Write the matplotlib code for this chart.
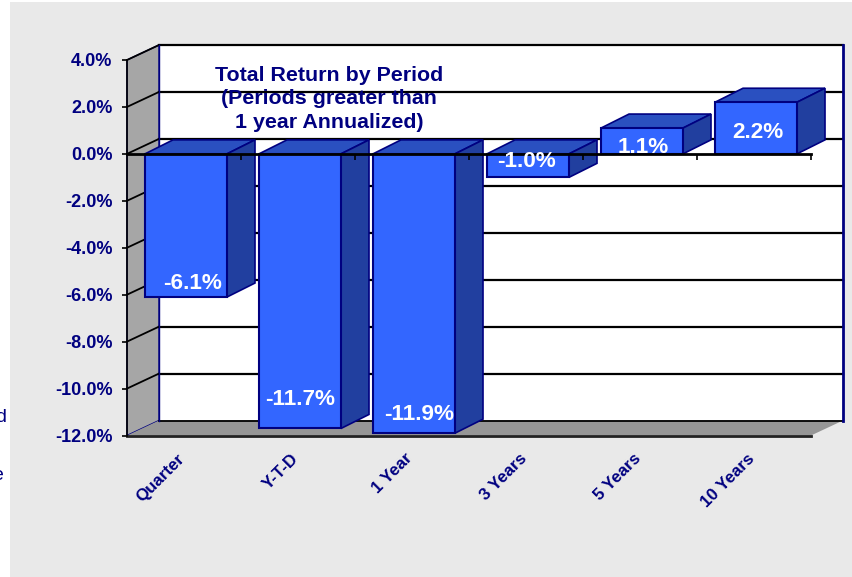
import matplotlib
matplotlib.use("Agg")
import matplotlib.pyplot as plt
from matplotlib.patches import Polygon, Rectangle

plt.rcParams["font.family"] = ["Liberation Sans", "DejaVu Sans"]

categories = ["Quarter", "Y-T-D", "1 Year", "3 Years", "5 Years", "10 Years"]
returns = [-6.1, -11.7, -11.9, -1.0, 1.1, 2.2]
y_ticks = [4, 2, 0, -2, -4, -6, -8, -10, -12]
label_shift = [14, 29, 19, 16, -19, -30]  # px from bar end to label centre
label_nudge = [7, 0, 5, -1, 1, 2]  # px sideways from bar centre

W, H = 853, 577
NAVY = "#000080"
FRONT = "#3366ff"
TOP = "#2a50c0"
SIDE = "#213f9f"

fig = plt.figure(figsize=(W / 100, H / 100), dpi=100, facecolor="white")
fig.patches.append(
    Rectangle((10 / W, 0), (W - 10) / W, 575 / H, transform=fig.transFigure,
              facecolor="#e9e9e9", edgecolor="none", zorder=-5)
)

# front plane of the 3D box, in pixels
left, right, top, bottom = 127, 811, 60, 435.5
ax = fig.add_axes([left / W, 1 - bottom / H, (right - left) / W, (bottom - top) / H])
ax.set_xlim(0, 6)
ax.set_ylim(-12, 4)
ax.patch.set_visible(False)

px_x = 6 / (right - left)
px_y = 16 / (bottom - top)
dx, dy = 32 * px_x, 15 * px_y  # box depth
bdx, bdy = 28 * px_x, 14 * px_y  # bar depth

# side wall and floor
ax.add_patch(Polygon([(0, -12), (dx, -12 + dy), (dx, 4 + dy), (0, 4)], closed=True,
                     facecolor="#a6a6a6", edgecolor=NAVY, lw=1, zorder=0.5, clip_on=False))
ax.add_patch(Polygon([(0, -12), (6, -12), (6 + dx, -12 + dy), (dx, -12 + dy)], closed=True,
                     facecolor="#969696", edgecolor="none", zorder=0.5, clip_on=False))
ax.add_patch(Rectangle((dx, -12 + dy), 6, 16, facecolor="white", edgecolor="none",
                       zorder=0.4, clip_on=False))

# gridlines on walls
for t in y_ticks:
    if t == -12:
        ax.plot([dx, 6 + dx], [t + dy, t + dy], color="black", lw=1.3, zorder=0.7, clip_on=False)
        continue
    ax.plot([dx, 6 + dx], [t + dy, t + dy], color="black", lw=1.6, zorder=0.7, clip_on=False)
    ax.plot([0, dx], [t, t + dy], color="black", lw=1.3, zorder=0.7, clip_on=False)
ax.plot([dx, dx], [-12 + dy, 4 + dy], color=NAVY, lw=1, zorder=0.8, clip_on=False)
ax.plot([6 + dx, 6 + dx], [-12 + dy, 4 + dy], color=NAVY, lw=2, zorder=0.8, clip_on=False)

# bars
xs = [i + 0.5 + 2 * px_x for i in range(len(returns))]
bar_w = 82 * px_x
ax.bar(xs, returns, width=bar_w, color=FRONT, edgecolor=NAVY, lw=1.5, zorder=3, clip_on=False)
for x, v in zip(xs, returns):
    x0, x1 = x - bar_w / 2, x + bar_w / 2
    hi, lo = max(v, 0), min(v, 0)
    ax.add_patch(Polygon([(x0, hi), (x1, hi), (x1 + bdx, hi + bdy), (x0 + bdx, hi + bdy)], closed=True,
                         facecolor=TOP, edgecolor=NAVY, lw=1.2, zorder=2.9, clip_on=False))
    ax.add_patch(Polygon([(x1, lo), (x1 + bdx, lo + bdy), (x1 + bdx, hi + bdy), (x1, hi)], closed=True,
                         facecolor=SIDE, edgecolor=NAVY, lw=1.2, zorder=2.9, clip_on=False))

# value labels, cut off below the bar end as in the original
for x, v, s, n in zip(xs, returns, label_shift, label_nudge):
    t = ax.text(x + n * px_x, v + s * px_y, f"{v:.1f}%", color="white", fontsize=16.2, fontweight="bold",
                ha="center", va="center", zorder=6, clip_on=True)
    t.set_clip_path(Rectangle((x - bar_w / 2, min(v, 0)), bar_w, abs(v) + bdy, transform=ax.transData))

# axes
for name in ["top", "right"]:
    ax.spines[name].set_visible(False)
ax.spines["bottom"].set_position(("data", 0))
ax.spines["bottom"].set_linewidth(2)
ax.spines["bottom"].set_zorder(5)
ax.spines["left"].set_linewidth(1.2)
ax.spines["left"].set_zorder(5)
ax.xaxis.set_zorder(5)
ax.set_xticks(range(1, 7))
ax.tick_params(axis="x", length=4, width=1.2, labelbottom=False)
ax.set_yticks(y_ticks)
ax.set_yticklabels([f"{t:.1f}%" for t in y_ticks], color=NAVY, fontsize=13, fontweight="bold")
ax.tick_params(axis="y", length=3.5, width=1.2, pad=7)
ax.axhline(-12, color="#222222", lw=2, zorder=5, clip_on=False)

for i, c in enumerate(categories):
    ax.annotate(c, (i + 0.5, -12), xytext=(-5, -11), textcoords="offset points", color=NAVY,
                fontsize=12.2, fontweight="bold", rotation=45, rotation_mode="anchor",
                ha="right", va="top", annotation_clip=False)

fig.text(329 / W, 1 - 99 / H, "Total Return by Period\n(Periods greater than\n1 year Annualized)",
         color=NAVY, fontsize=15.4, fontweight="bold", ha="center", va="center", linespacing=1.3, zorder=2)

# text cut off by the left edge of the crop
fig.text(6 / W, 1 - 418 / H, "d", color=NAVY, fontsize=14, ha="right", va="center")
fig.text(3 / W, 1 - 475 / H, "e", color=NAVY, fontsize=14, ha="right", va="center")

fig.savefig("out.png", dpi=100)
